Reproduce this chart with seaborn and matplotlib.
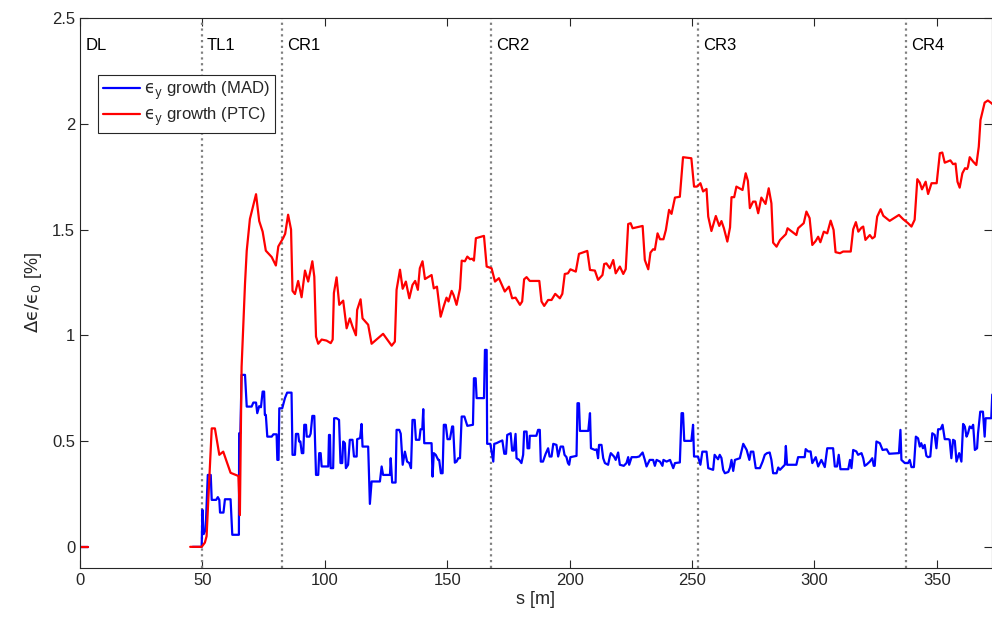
import numpy as np
import pandas as pd
import matplotlib
matplotlib.use('Agg')
import matplotlib.pyplot as plt
import seaborn as sns

# emittance growth along the line
# short pieces at the very start (DL) and just before TL1
s_start = [0.0, 3.3]
d_start = [0.0, 0.0]

s_ptc = [45, 49.7, 51, 51.7, 53.8, 55.1, 56.9, 58.5, 61.5, 64.7, 65.3, 66, 67.4, 68.1, 69.4, 71.9,
         73.2, 74.6, 75.9, 78.3, 80, 81, 83, 83.8, 85, 86.2, 86.8, 87.8, 89.1, 90.5, 91.9, 93.2,
         94.9, 95.7, 96.4, 97.3, 98.7, 100.7, 102.4, 103.2, 103.7, 104.8, 105.9, 107.5, 108.9,
         110.2, 111.3, 112.7, 113.2, 114.6, 115.4, 117.7, 119.1, 123.8, 127.3, 128.6, 129.3,
         130.7, 131.8, 133.1, 134.5, 135.8, 136.9, 138, 138.8, 139.9, 140.9, 143.6, 144.5, 145.8,
         147.3, 148.6, 149.7, 150.5, 151.8, 152.6, 153.8, 155.2, 155.9, 157.2, 158.2, 159.3,
         160.2, 160.9, 161.7, 165, 166.1, 168.1, 169.5, 171.1, 173.5, 175.2, 176.5, 177.9, 179.7,
         180.6, 181.4, 182.4, 183.7, 187.6, 188.5, 189.6, 191.2, 192.6, 194.1, 196, 197, 198,
         199.3, 200.3, 202.5, 203.8, 207.2, 208.3, 210.3, 211.6, 213.4, 214.1, 215, 216.4, 217.8,
         218.8, 220.5, 221.9, 222.9, 223.9, 224.9, 225.7, 229.8, 230.7, 232.1, 233, 234.1, 234.8,
         235.9, 236.9, 238.3, 239.3, 240.6, 241.6, 243, 245, 246.3, 249.7, 250.8, 252, 253.4,
         254.5, 255.9, 256.6, 257.9, 259.7, 261.1, 262, 263, 264.4, 265.5, 266.1, 267.2, 268.1,
         270.6, 271.9, 272.8, 273.6, 274.9, 275.9, 277, 278.3, 280, 281.3, 282.4, 283.1, 284.5,
         285.9, 288.3, 289, 292.6, 293.3, 295.6, 296.7, 298, 299.1, 300.5, 301.5, 302.4, 303.8,
         305.2, 306.6, 307.8, 308.6, 310.4, 311.7, 314.8, 315.8, 316.9, 317.9, 319.2, 319.9,
         320.8, 322.6, 323.6, 324.6, 325.6, 327, 328.1, 330.7, 334.5, 336.2, 338.2, 339.6, 340.9,
         342, 343, 343.9, 345.4, 346.4, 347.8, 349.9, 351.2, 352.2, 353.2, 355.5, 356.6, 357.6,
         358.4, 359.3, 360.4, 361.5, 362.3, 362.7, 363.4, 364.8, 366.1, 367.1, 367.8, 369.5,
         370.8, 372, 373]
d_ptc = [0, 0, 0.02, 0.05, 0.56, 0.56, 0.435, 0.45, 0.35, 0.335, 0.15, 0.85, 1.245, 1.40, 1.55,
         1.667, 1.54, 1.49, 1.40, 1.37, 1.33, 1.42, 1.46, 1.48, 1.57, 1.50, 1.21, 1.195, 1.257,
         1.18, 1.306, 1.254, 1.35, 1.277, 0.994, 0.96, 0.98, 0.975, 0.963, 0.98, 1.20, 1.274,
         1.144, 1.164, 1.033, 1.08, 1.041, 1.00, 1.12, 1.17, 1.08, 1.05, 0.96, 1.007, 0.951, 0.97,
         1.215, 1.31, 1.22, 1.254, 1.175, 1.238, 1.257, 1.215, 1.317, 1.35, 1.266, 1.285, 1.222,
         1.23, 1.088, 1.139, 1.178, 1.16, 1.21, 1.19, 1.144, 1.22, 1.353, 1.35, 1.372, 1.36,
         1.362, 1.353, 1.459, 1.47, 1.325, 1.317, 1.254, 1.27, 1.207, 1.23, 1.175, 1.178, 1.144,
         1.16, 1.265, 1.275, 1.257, 1.257, 1.16, 1.139, 1.167, 1.167, 1.196, 1.175, 1.196, 1.29,
         1.293, 1.312, 1.301, 1.385, 1.399, 1.309, 1.306, 1.262, 1.285, 1.337, 1.34, 1.317,
         1.356, 1.293, 1.325, 1.29, 1.313, 1.526, 1.53, 1.506, 1.517, 1.356, 1.312, 1.391, 1.407,
         1.404, 1.482, 1.454, 1.454, 1.498, 1.593, 1.574, 1.651, 1.655, 1.842, 1.837, 1.703,
         1.703, 1.719, 1.68, 1.692, 1.561, 1.493, 1.564, 1.517, 1.54, 1.506, 1.443, 1.51, 1.653,
         1.653, 1.703, 1.687, 1.766, 1.73, 1.601, 1.632, 1.632, 1.577, 1.651, 1.621, 1.695,
         1.624, 1.438, 1.419, 1.45, 1.478, 1.506, 1.474, 1.506, 1.53, 1.585, 1.554, 1.427, 1.446,
         1.466, 1.44, 1.49, 1.482, 1.542, 1.498, 1.393, 1.388, 1.396, 1.396, 1.501, 1.535, 1.49,
         1.509, 1.514, 1.451, 1.474, 1.458, 1.466, 1.561, 1.596, 1.565, 1.541, 1.569, 1.549,
         1.53, 1.514, 1.546, 1.738, 1.722, 1.69, 1.726, 1.668, 1.719, 1.719, 1.861, 1.864, 1.816,
         1.827, 1.809, 1.812, 1.726, 1.698, 1.766, 1.79, 1.786, 1.797, 1.842, 1.821, 1.805, 1.892,
         2.018, 2.10, 2.11, 2.10, 2.09]

s_mad = [46, 49.7, 50.0, 50.5, 51.3, 52.2, 53.4, 53.8, 55.6, 56.3, 56.9, 57.2, 58.6, 59.2, 61.5,
         62.2, 64.9, 65.0, 65.5, 66, 67.4, 68.1, 70.1, 70.8, 71.9, 72.4, 73.2, 73.9, 74.6, 75.2,
         75.5, 75.9, 76.5, 78.3, 79, 80.3, 80.6, 81.1, 81.4, 82.6, 83.7, 84.6, 86.4, 86.8, 87.8,
         88.2, 89.1, 89.5, 90.0, 90.6, 91.2, 91.6, 92.3, 92.6, 93.7, 94.2, 94.9, 95.7, 96.4, 97.3,
         97.7, 98.3, 98.7, 101.4, 101.7, 102.1, 102.4, 103.4, 103.8, 104.8, 105.8, 106.4, 107.1,
         107.5, 108.2, 108.6, 109.5, 110.2, 111.3, 111.9, 113.0, 113.2, 114.4, 115, 115.4, 117.7,
         118.4, 119.1, 122.5, 123.2, 123.8, 126.6, 126.9, 127.5, 128.9, 129.3, 130.4, 131, 131.8,
         132.7, 133.6, 134.5, 135.2, 135.8, 136.7, 137.2, 138.6, 139.1, 139.8, 140.2, 140.6, 143.6,
         144, 144.5, 145.3, 146.3, 146.7, 147.4, 148.1, 148.6, 149.4, 150.1, 151.1, 152, 152.4,
         153.1, 153.8, 154.5, 155.2, 155.9, 157, 158.2, 160.5, 160.9, 161.6, 162, 165, 165.4,
         166.1, 166.3, 167.6, 168.8, 169.2, 170.1, 171.5, 172.5, 173.3, 174.0, 174.5, 175.9,
         176.5, 177.2, 177.9, 178.3, 179.4, 180.3, 181.0, 181.4, 182.4, 182.8, 183.5, 183.7,
         186.4, 187.1, 187.8, 188.2, 189.1, 190.2, 191.2, 191.8, 192.6, 193.3, 194.6, 195.3,
         196.3, 197.3, 197.9, 198.7, 199.3, 199.8, 200.3, 202.8, 203.2, 203.8, 204.2, 207.6,
         208.3, 208.7, 210.3, 211, 211.6, 212, 213.0, 213.7, 214.4, 215.7, 216.4, 216.8, 218.1,
         218.8, 219.8, 220.5, 222.1, 223.2, 223.9, 224.3, 225.3, 227.3, 228.4, 229.8, 230.7,
         231.4, 232.7, 234.1, 234.8, 235.5, 236.9, 237.9, 238.3, 239.6, 241, 242.3, 243.0, 245,
         245.7, 246.3, 246.8, 249.7, 250.4, 250.8, 252.4, 253.4, 254.2, 255.9, 256.6, 258.6,
         259.2, 260.6, 261.3, 262, 262.7, 263.4, 264.8, 265.5, 266.1, 266.8, 267.5, 269.5, 270.9,
         272.3, 273.4, 274, 275.0, 276, 277.7, 278.8, 279.7, 280.6, 281.7, 282.4, 283.1, 284.5,
         285.2, 285.9, 287.9, 288.3, 288.8, 292.6, 293.3, 296.0, 296.4, 297.4, 298.4, 299.1,
         300.5, 301.5, 302.8, 304.2, 305.2, 307.6, 308.3, 309.2, 309.9, 310.6, 313.8, 314.5,
         315.1, 315.8, 317.1, 317.8, 319.2, 319.9, 320.5, 321.2, 322.6, 323.6, 324.2, 324.6,
         325.3, 326.7, 327.8, 329.5, 330.5, 334.5, 335.1, 335.5, 336.9, 338.2, 338.9, 339.6,
         340.6, 341.4, 342.3, 343.0, 343.6, 344.3, 345.0, 345.7, 346.4, 347.3, 348.1, 349.1,
         349.8, 350.5, 351.5, 352.3, 353.2, 354.6, 355.2, 355.9, 356.6, 357.3, 358, 359.1, 360,
         360.7, 361.4, 362.1, 362.7, 363.4, 364.1, 364.8, 365.5, 366.4, 366.8, 367.7, 368.8,
         369.5, 369.9, 372.2, 372.6]
d_mad = [0, 0, 0.175, 0.06, 0.08, 0.34, 0.34, 0.222, 0.222, 0.235, 0.222, 0.162, 0.162, 0.225,
         0.225, 0.057, 0.057, 0.537, 0.537, 0.813, 0.813, 0.663, 0.663, 0.682, 0.682, 0.632,
         0.665, 0.66, 0.734, 0.734, 0.624, 0.624, 0.521, 0.521, 0.532, 0.532, 0.411, 0.411, 0.655,
         0.655, 0.703, 0.729, 0.729, 0.435, 0.435, 0.534, 0.534, 0.498, 0.498, 0.443, 0.443, 0.577,
         0.577, 0.521, 0.521, 0.535, 0.619, 0.619, 0.34, 0.34, 0.443, 0.443, 0.38, 0.38, 0.529,
         0.529, 0.372, 0.372, 0.608, 0.608, 0.6, 0.396, 0.396, 0.498, 0.49, 0.372, 0.388, 0.506,
         0.506, 0.427, 0.427, 0.509, 0.514, 0.581, 0.474, 0.474, 0.203, 0.309, 0.309, 0.38, 0.34,
         0.34, 0.419, 0.304, 0.304, 0.553, 0.553, 0.535, 0.388, 0.45, 0.403, 0.396, 0.372, 0.60,
         0.60, 0.506, 0.506, 0.556, 0.556, 0.651, 0.49, 0.49, 0.332, 0.443, 0.435, 0.411, 0.411,
         0.348, 0.348, 0.577, 0.577, 0.509, 0.509, 0.569, 0.569, 0.398, 0.403, 0.419, 0.419, 0.616,
         0.616, 0.572, 0.577, 0.797, 0.797, 0.703, 0.703, 0.931, 0.931, 0.487, 0.487, 0.403, 0.487,
         0.49, 0.498, 0.503, 0.44, 0.44, 0.529, 0.537, 0.455, 0.455, 0.534, 0.419, 0.411, 0.396,
         0.435, 0.545, 0.545, 0.466, 0.466, 0.525, 0.525, 0.553, 0.553, 0.403, 0.403, 0.44, 0.466,
         0.427, 0.427, 0.487, 0.482, 0.427, 0.474, 0.474, 0.435, 0.424, 0.396, 0.388, 0.424, 0.43,
         0.679, 0.679, 0.548, 0.548, 0.632, 0.466, 0.458, 0.461, 0.419, 0.482, 0.482, 0.419, 0.396,
         0.388, 0.427, 0.443, 0.427, 0.411, 0.446, 0.388, 0.383, 0.396, 0.424, 0.388, 0.424, 0.424,
         0.427, 0.446, 0.411, 0.38, 0.411, 0.411, 0.383, 0.411, 0.403, 0.383, 0.411, 0.403, 0.411,
         0.372, 0.396, 0.399, 0.632, 0.632, 0.501, 0.501, 0.577, 0.427, 0.427, 0.388, 0.45, 0.45,
         0.372, 0.364, 0.435, 0.414, 0.435, 0.42, 0.364, 0.348, 0.354, 0.375, 0.411, 0.359, 0.411,
         0.419, 0.487, 0.458, 0.411, 0.45, 0.45, 0.372, 0.372, 0.403, 0.435, 0.443, 0.446, 0.411,
         0.348, 0.348, 0.375, 0.364, 0.388, 0.477, 0.388, 0.388, 0.424, 0.424, 0.462, 0.451, 0.451,
         0.396, 0.424, 0.38, 0.411, 0.377, 0.466, 0.466, 0.38, 0.38, 0.435, 0.367, 0.367, 0.411,
         0.372, 0.458, 0.451, 0.435, 0.443, 0.419, 0.383, 0.388, 0.403, 0.419, 0.383, 0.383, 0.498,
         0.49, 0.458, 0.461, 0.44, 0.443, 0.553, 0.411, 0.396, 0.396, 0.411, 0.377, 0.377, 0.521,
         0.513, 0.474, 0.49, 0.466, 0.482, 0.43, 0.424, 0.427, 0.537, 0.529, 0.466, 0.556, 0.556,
         0.577, 0.509, 0.509, 0.506, 0.419, 0.506, 0.501, 0.403, 0.443, 0.403, 0.581, 0.569, 0.521,
         0.537, 0.569, 0.561, 0.577, 0.458, 0.466, 0.537, 0.639, 0.639, 0.521, 0.608, 0.608, 0.72]

# section boundaries and names
section_names = ['DL', 'TL1', 'CR1', 'CR2', 'CR3', 'CR4']
section_start = [0, 49.7, 82.6, 167.7, 252.5, 337.3]


def make_df(s_main, d_main):
    return pd.DataFrame({
        's': list(s_start) + list(s_main),
        'growth': list(d_start) + list(d_main),
        'seg': [0] * len(s_start) + [1] * len(s_main),
    })


df_mad = make_df(s_mad, d_mad)
df_ptc = make_df(s_ptc, d_ptc)

sns.set_style('ticks')
plt.rcParams['font.family'] = ['Liberation Sans', 'DejaVu Sans']
plt.rcParams['mathtext.fontset'] = 'custom'
plt.rcParams['mathtext.rm'] = 'DejaVu Sans'
plt.rcParams['mathtext.it'] = 'DejaVu Sans'

fig = plt.figure(figsize=(9.92, 6.21), dpi=100)
ax = fig.add_axes([80 / 992, 1 - 568 / 621, 912 / 992, 550 / 621])

# section separators
for x in section_start[1:]:
    ax.axvline(x, color='0.5', linestyle=(0, (1, 1.6)), linewidth=1.6, zorder=1)
for name, x in zip(section_names, section_start):
    ax.text(x + 2.2, 2.372, name, fontsize=12, color='black', va='center', ha='left')

lab_mad = '$\u03f5_\\mathrm{y}$ growth (MAD)'
lab_ptc = '$\u03f5_\\mathrm{y}$ growth (PTC)'
sns.lineplot(data=df_mad, x='s', y='growth', units='seg', estimator=None, sort=False,
             color='#0000ff', linewidth=1.6, ax=ax, label=lab_mad)
sns.lineplot(data=df_ptc, x='s', y='growth', units='seg', estimator=None, sort=False,
             color='#ff0000', linewidth=1.6, ax=ax, label=lab_ptc)

ax.set_xlim(0, 372.5)
ax.set_ylim(-0.1, 2.5)
ax.set_xticks([0, 50, 100, 150, 200, 250, 300, 350])
ax.set_yticks([0, 0.5, 1, 1.5, 2, 2.5])
ax.set_yticklabels(['0', '0.5', '1', '1.5', '2', '2.5'])
ax.tick_params(direction='in', length=6, width=0.8, top=True, right=True,
               labelsize=12, colors='0.15')
for sp in ax.spines.values():
    sp.set_visible(True)
    sp.set_color('0.15')
    sp.set_linewidth(0.8)

ax.set_xlabel('s [m]', fontsize=13, color='0.15', labelpad=2)
ax.set_ylabel('$\\Delta\u03f5/\u03f5_0$ [%]', fontsize=13, color='0.15', labelpad=6)

# one legend entry per series (units splits each series into pieces)
handles, labels = ax.get_legend_handles_labels()
keep = {}
for h, l in zip(handles, labels):
    keep.setdefault(l, h)
leg = ax.legend(list(keep.values()), list(keep.keys()), loc='upper left',
                bbox_to_anchor=(0.0197, 0.897), borderaxespad=0,
                fontsize=12, frameon=True, fancybox=False, framealpha=1,
                edgecolor='0.15', handlelength=2.2, handletextpad=0.25,
                borderpad=0.3, labelspacing=0.25)
leg.get_frame().set_linewidth(0.8)

fig.savefig('out.png', dpi=100)
